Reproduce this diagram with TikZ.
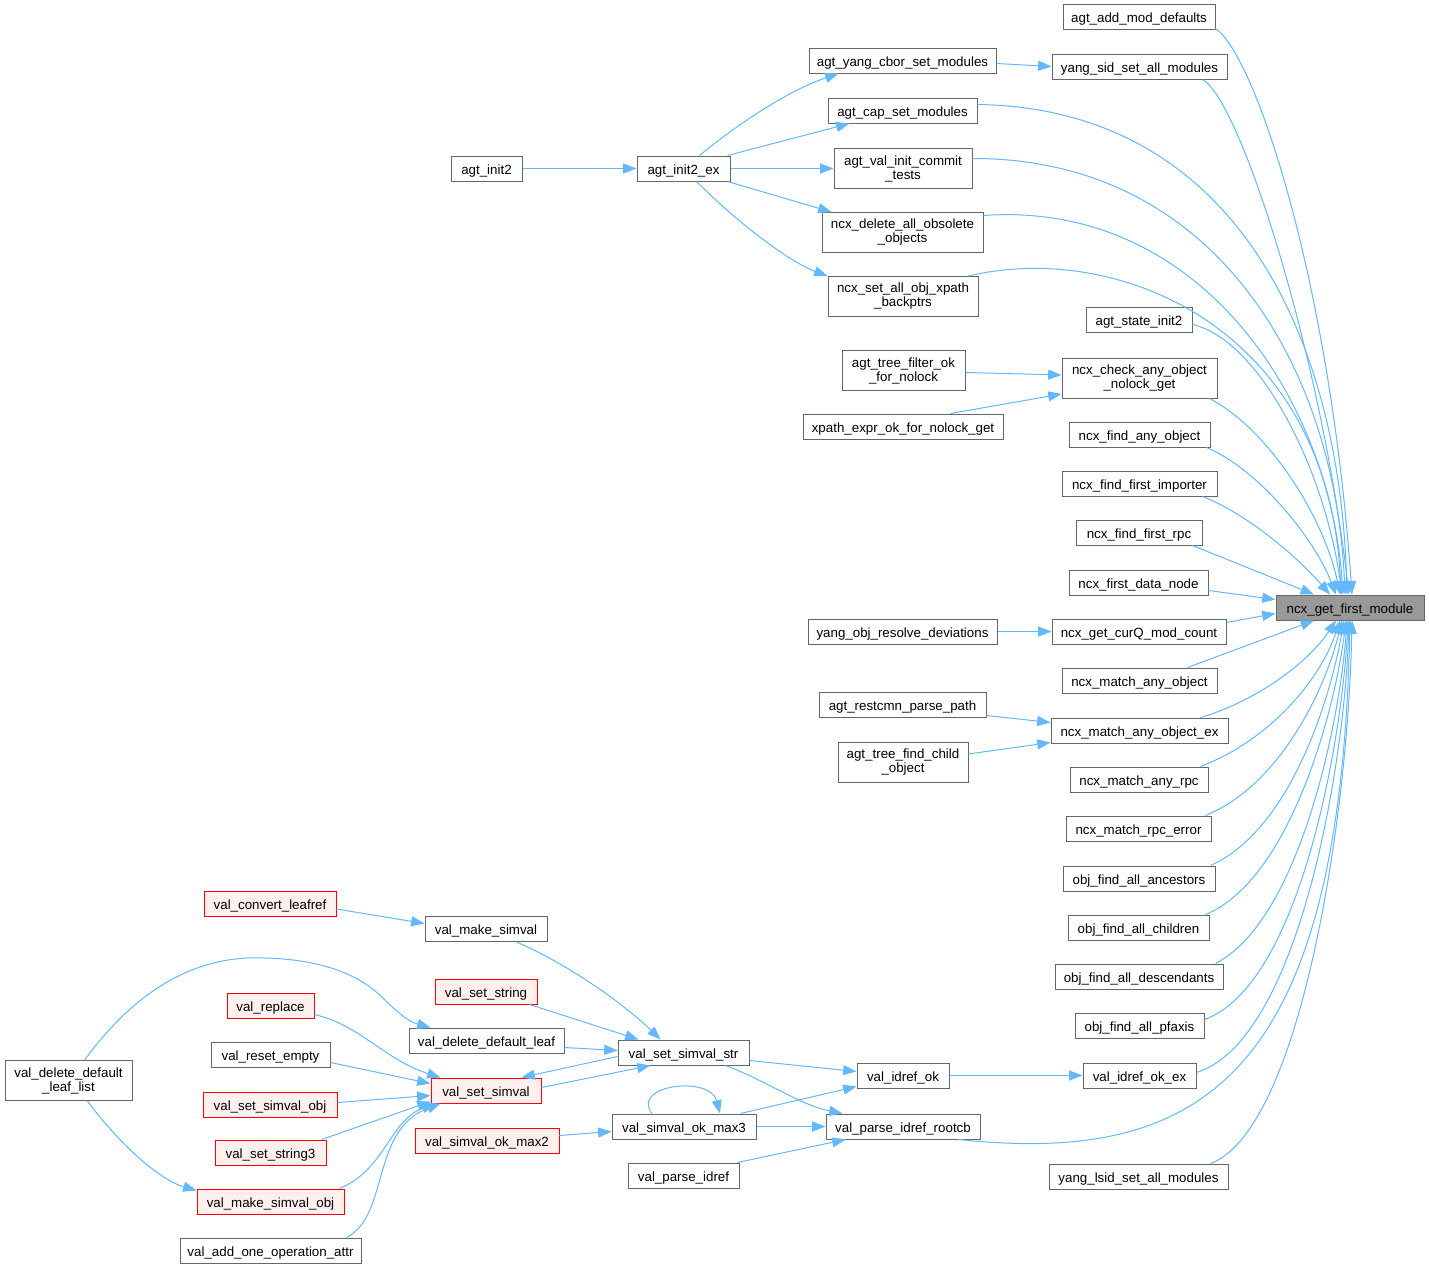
\documentclass[tikz,border=0pt]{standalone}
\usepackage{fontspec}
\setmainfont{Liberation Sans}
\usetikzlibrary{arrows.meta,calc}
\definecolor{edgeblue}{HTML}{63B8FF}
\definecolor{bordergray}{HTML}{666666}
\definecolor{redfill}{HTML}{FFF0F0}
\definecolor{tgtfill}{HTML}{999999}
\tikzset{
  tbox/.style={draw=bordergray, fill=white, line width=0.75pt, inner sep=0pt,
    minimum height=30pt, align=center, font=\fontsize{10pt}{10.5pt}\selectfont},
  box/.style={draw=bordergray, fill=white, line width=0.75pt, inner sep=0pt,
    minimum height=18.75pt, text height=8.6pt, text depth=0pt, font=\fontsize{10pt}{10.5pt}\selectfont},
  bw/.style={minimum width=#1*0.75pt},
  redbox/.style={box, draw=red, fill=redfill},
  tgtbox/.style={box, fill=tgtfill},
  edge/.style={draw=edgeblue, line width=0.75pt, -{Triangle[length=10pt,width=7.5pt]}}
}
\begin{document}
\begin{tikzpicture}[x=0.75pt,y=-0.75pt]
\useasboundingbox (0,0) rectangle (1429,1271);
\fill[white] (0,0) rectangle (1429,1271);

% target
\node[tgtbox,bw=148] (tgt) at (1350,607.5) {ncx\_get\_first\_module};

% right column
\node[box,bw=152] (amd) at (1139,16.5) {agt\_add\_mod\_defaults};
\node[box,bw=175] (ysid) at (1139.5,66.5) {yang\_sid\_set\_all\_modules};
\node[box,bw=106] (asi) at (1139,319.5) {agt\_state\_init2};
\node[tbox,bw=155] (ncheck) at (1139.5,378) {ncx\_check\_any\_object\\\_nolock\_get};
\node[box,bw=141] (nfao) at (1139.5,434.5) {ncx\_find\_any\_object};
\node[box,bw=155] (nffi) at (1139.5,483.5) {ncx\_find\_first\_importer};
\node[box,bw=126] (nffr) at (1139,532.5) {ncx\_find\_first\_rpc};
\node[box,bw=139] (nfdn) at (1138.5,582.5) {ncx\_first\_data\_node};
\node[box,bw=174] (ngc) at (1139,631.5) {ncx\_get\_curQ\_mod\_count};
\node[box,bw=155] (nmao) at (1139.5,680.5) {ncx\_match\_any\_object};
\node[box,bw=177] (nmaoe) at (1139.5,730.5) {ncx\_match\_any\_object\_ex};
\node[box,bw=138] (nmar) at (1139,779.5) {ncx\_match\_any\_rpc};
\node[box,bw=145] (nmre) at (1138.5,828.5) {ncx\_match\_rpc\_error};
\node[box,bw=152] (ofaa) at (1139,878.5) {obj\_find\_all\_ancestors};
\node[box,bw=141] (ofac) at (1138.5,927.5) {obj\_find\_all\_children};
\node[box,bw=168] (ofad) at (1139,976.5) {obj\_find\_all\_descendants};
\node[box,bw=129] (ofap) at (1139.5,1025.5) {obj\_find\_all\_pfaxis};
\node[box,bw=113] (vioe) at (1139.5,1075.5) {val\_idref\_ok\_ex};
\node[box,bw=179] (ylsid) at (1138.5,1176.5) {yang\_lsid\_set\_all\_modules};

% middle column
\node[box,bw=187] (aycsm) at (902.5,60.5) {agt\_yang\_cbor\_set\_modules};
\node[box,bw=149] (acsm) at (902.5,110.5) {agt\_cap\_set\_modules};
\node[tbox,bw=138] (avict) at (903,168.5) {agt\_val\_init\_commit\\\_tests};
\node[tbox,bw=161] (ndaoo) at (902.5,232.5) {ncx\_delete\_all\_obsolete\\\_objects};
\node[tbox,bw=150] (nsaoxb) at (903,296.5) {ncx\_set\_all\_obj\_xpath\\\_backptrs};
\node[tbox,bw=123] (atfon) at (903.5,370.5) {agt\_tree\_filter\_ok\\\_for\_nolock};
\node[box,bw=200] (xeofng) at (903,426.5) {xpath\_expr\_ok\_for\_nolock\_get};
\node[box,bw=189] (yord) at (902.5,631.5) {yang\_obj\_resolve\_deviations};
\node[box,bw=167] (arpp) at (902.5,704.5) {agt\_restcmn\_parse\_path};
\node[tbox,bw=130] (atfco) at (903,762) {agt\_tree\_find\_child\\\_object};
\node[box,bw=92] (vio) at (903,1075.5) {val\_idref\_ok};
\node[box,bw=154] (vpir) at (903,1126.5) {val\_parse\_idref\_rootcb};

\node[box,bw=71] (ai2) at (486.5,168.5) {agt\_init2};
\node[box,bw=93] (ai2e) at (683.5,168.5) {agt\_init2\_ex};

% bottom left
\node[redbox,bw=132] (vcl) at (270,904) {val\_convert\_leafref};
\node[box,bw=122] (vms) at (486,928.5) {val\_make\_simval};
\node[redbox,bw=102] (vss) at (486,991.5) {val\_set\_string};
\node[redbox,bw=87] (vrep) at (270.5,1005.5) {val\_replace};
\node[box,bw=155] (vddl) at (486.5,1040.5) {val\_delete\_default\_leaf};
\node[box,bw=119] (vre) at (270.5,1054.5) {val\_reset\_empty};
\node[tbox,bw=127] (vddll) at (68.5,1080.5) {val\_delete\_default\\\_leaf\_list};
\node[redbox,bw=110] (vsv) at (486,1090.5) {val\_set\_simval};
\node[redbox,bw=134] (vsvo) at (270,1104.5) {val\_set\_simval\_obj};
\node[redbox,bw=111] (vs3) at (270.5,1152.5) {val\_set\_string3};
\node[redbox,bw=147] (vmso) at (270.5,1201.5) {val\_make\_simval\_obj};
\node[box,bw=181] (vaooa) at (270.5,1250.5) {val\_add\_one\_operation\_attr};
\node[redbox,bw=144] (vsom2) at (487,1140.5) {val\_simval\_ok\_max2};
\node[box,bw=131] (vsvs) at (683.5,1052.5) {val\_set\_simval\_str};
\node[box,bw=144] (vsom3) at (684,1126.5) {val\_simval\_ok\_max3};
\node[box,bw=111] (vpi) at (683.5,1175.5) {val\_parse\_idref};

% edges to target from above
\draw[edge] ($(amd.south east)+(0,-1)$) .. controls (1255,55) and (1330,280) .. ($(tgt.north)+(2,0)$);
\draw[edge] ($(ysid.south east)+(-25,0)$) .. controls (1240,100) and (1320,350) .. ($(tgt.north)+(-1,0)$);
\draw[edge] ($(acsm.east)+(0,-6)$) .. controls (1230,108) and (1340,330) .. ($(tgt.north)+(-3,0)$);
\draw[edge] ($(avict.east)+(0,-10)$) .. controls (1210,158) and (1335,360) .. ($(tgt.north)+(-5,0)$);
\draw[edge] ($(ndaoo.east)+(0,-17)$) .. controls (1200,200) and (1330,400) .. ($(tgt.north)+(-7,0)$);
\draw[edge] ($(nsaoxb.north east)+(-10,0)$) .. controls (1120,240) and (1330,330) .. ($(tgt.north)+(-9,0)$);
\draw[edge] ($(asi.east)+(0,5)$) .. controls (1260,340) and (1325,470) .. ($(tgt.north)+(-8,0)$);
\draw[edge] ($(ncheck.south east)+(-8,0)$) .. controls (1270,430) and (1325,520) .. ($(tgt.north)+(-10,0)$);
\draw[edge] ($(nfao.south east)+(-4,0)$) .. controls (1260,470) and (1315,540) .. ($(tgt.north)+(-14,0)$);
\draw[edge] ($(nffi.south east)+(-15,0)$) .. controls (1250,515) and (1300,560) .. ($(tgt.north)+(-20,0)$);
\draw[edge] ($(nffr.south east)+(-10,0)$) -- ($(tgt.north)+(-36,0)$);
\draw[edge] ($(nfdn.east)+(0,8)$) -- ($(tgt.west)+(0,-8)$);
\draw[edge] ($(ngc.east)+(0,-9)$) -- ($(tgt.west)+(0,6)$);
% edges to target from below
\draw[edge] ($(nmao.north east)+(-30,0)$) -- ($(tgt.south)+(-36,0)$);
\draw[edge] ($(nmaoe.north east)+(-28,0)$) .. controls (1260,700) and (1310,660) .. ($(tgt.south)+(-14,0)$);
\draw[edge] ($(nmar.north east)+(-8,0)$) .. controls (1270,740) and (1320,680) .. ($(tgt.south)+(-10,0)$);
\draw[edge] ($(nmre.north east)+(-6,0)$) .. controls (1280,785) and (1325,690) .. ($(tgt.south)+(-8,0)$);
\draw[edge] ($(ofaa.north east)+(-5,0)$) .. controls (1290,830) and (1330,700) .. ($(tgt.south)+(-6,0)$);
\draw[edge] ($(ofac.north east)+(-4,0)$) .. controls (1290,880) and (1335,710) .. ($(tgt.south)+(-4,0)$);
\draw[edge] ($(ofad.north east)+(-8,0)$) .. controls (1300,920) and (1340,720) .. ($(tgt.south)+(-3,0)$);
\draw[edge] ($(ofap.east)+(0,-6)$) .. controls (1300,985) and (1342,740) .. ($(tgt.south)+(-2,0)$);
\draw[edge] ($(vioe.east)+(0,-3)$) .. controls (1300,1040) and (1345,760) .. ($(tgt.south)+(-1,0)$);
\draw[edge] ($(vpir.south east)+(-22,0)$) .. controls (1200,1165) and (1340,1080) .. (tgt.south);
\draw[edge] ($(ylsid.north east)+(-18,0)$) .. controls (1300,1130) and (1348,820) .. ($(tgt.south)+(2,0)$);

% top middle edges
\draw[edge] (ai2.east) -- (ai2e.west);
\draw[edge] ($(ai2e.north)+(16,0)$) .. controls (740,122) and (790,90) .. ($(aycsm.south west)+(30,0)$);
\draw[edge] ($(ai2e.north east)+(-3,0)$) -- ($(acsm.south west)+(22,0)$);
\draw[edge] (ai2e.east) -- (avict.west);
\draw[edge] ($(ai2e.south east)+(-3,0)$) -- ($(ndaoo.north west)+(10,0)$);
\draw[edge] ($(ai2e.south)+(13,0)$) .. controls (740,225) and (790,262) .. (nsaoxb.north west);
\draw[edge] ($(aycsm.east)+(0,3)$) -- (ysid.west);
\draw[edge] ($(atfon.east)+(0,2)$) -- ($(ncheck.west)+(0,-3)$);
\draw[edge] ($(xeofng.north east)+(-53,0)$) -- ($(ncheck.west)+(0,16)$);
\draw[edge] (yord.east) -- (ngc.west);
\draw[edge] ($(arpp.east)+(0,11)$) -- ($(nmaoe.west)+(0,-8)$);
\draw[edge] ($(atfco.east)+(0,-8)$) -- ($(nmaoe.west)+(0,12)$);

% bottom middle edges
\draw[edge] (vio.east) -- (vioe.west);
\draw[edge] ($(vsvs.east)+(0,8)$) -- ($(vio.west)+(0,-4)$);
\draw[edge] ($(vsom3.north east)+(-16,0)$) -- ($(vio.south west)+(0,-2)$);
\draw[edge] ($(vsvs.south)+(42,0)$) .. controls (765,1080) and (800,1105) .. ($(vpir.north west)+(17,0)$);
\draw[edge] (vsom3.east) -- (vpir.west);
\draw[edge] ($(vpi.north east)+(-2,0)$) -- ($(vpir.south west)+(20,0)$);
\draw[edge] ($(vsom3.north)+(-32,0)$) .. controls (630,1085) and (710,1075) .. ($(vsom3.north)+(36,0)$);
\draw[edge] ($(vsom2.east)+(0,-5)$) -- ($(vsom3.west)+(0,5)$);
\draw[edge] ($(vms.south east)+(-32,0)$) .. controls (570,965) and (625,1005) .. ($(vsvs.north)+(-23,0)$);
\draw[edge] ($(vss.south east)+(-8,0)$) -- ($(vsvs.north)+(-45,0)$);
\draw[edge] ($(vddl.east)+(0,7)$) -- ($(vsvs.west)+(0,-2)$);
\draw[edge] ($(vsv.east)+(0,-3)$) -- ($(vsvs.south)+(-33,0)$);
\draw[edge] ($(vsvs.west)+(0,4)$) -- ($(vsv.north east)+(-20,0)$);

% bottom left edges
\draw[edge] ($(vcl.east)+(0,5)$) -- ($(vms.west)+(0,-5)$);
\draw[edge] ($(vddll.north)+(16,0)$) .. controls (140,985) and (200,955) .. (265,958)
   .. controls (340,960) and (370,985) .. (385,1000)
   .. controls (400,1015) and (410,1022) .. ($(vddl.north west)+(22,0)$);
\draw[edge] ($(vddll.south)+(19,0)$) .. controls (120,1145) and (160,1180) .. ($(vmso.north west)+(0,2)$);
\draw[edge] ($(vrep.east)+(0,9)$) .. controls (360,1025) and (385,1060) .. ($(vsv.north west)+(10,0)$);
\draw[edge] ($(vre.east)+(0,8)$) -- ($(vsv.west)+(0,-7)$);
\draw[edge] ($(vsvo.east)+(0,-2)$) -- ($(vsv.west)+(0,5)$);
\draw[edge] ($(vs3.north east)+(-5,0)$) -- ($(vsv.south west)+(0,-2)$);
\draw[edge] ($(vmso.north east)+(-5,0)$) .. controls (385,1170) and (390,1120) .. ($(vsv.south west)+(5,0)$);
\draw[edge] ($(vaooa.north east)+(-15,0)$) .. controls (390,1215) and (370,1130) .. ($(vsv.south west)+(10,0)$);
\end{tikzpicture}
\end{document}
